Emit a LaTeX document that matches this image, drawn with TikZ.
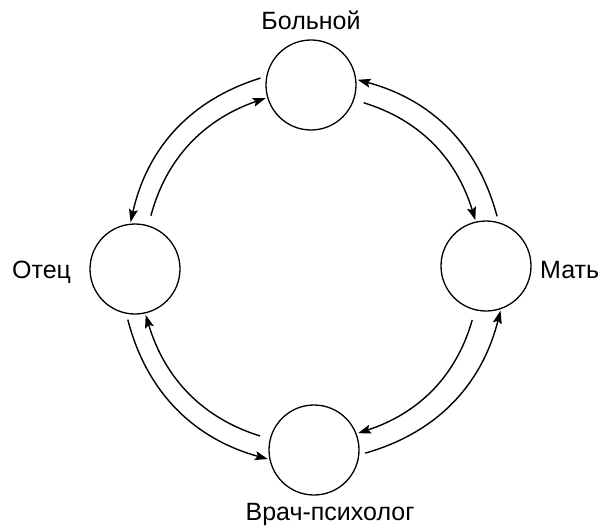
\documentclass[tikz,border=0pt]{standalone}
\usepackage{fontspec}
\setmainfont{Liberation Sans}
\usetikzlibrary{arrows.meta}
\begin{document}
\begin{tikzpicture}[x=1pt,y=1pt,
  person/.style={circle,draw,line width=1.3pt,minimum size=90pt,inner sep=0pt},
  lbl/.style={font=\fontsize{25}{30}\selectfont,inner sep=0pt},
  arr/.style={-{Stealth[length=13pt,width=9pt,inset=2.5pt]},line width=1.4pt,shorten >=1.5pt},
  outerarc/.style={arr,shorten <=6pt,bend right=30},
  innerarc/.style={arr,shorten <=10pt,bend left=28}]
\useasboundingbox (0,0) rectangle (601,528);
\node[person] (T) at (311,443) {};
\node[person] (L) at (135,259) {};
\node[person] (R) at (486,262) {};
\node[person] (B) at (314,78) {};
\node[lbl,anchor=base] (tl) at (311,498) {Больной};
\node[lbl,anchor=base west] (ll) at (12,250) {Отец};
\node[lbl,anchor=base west] (rl) at (540,250) {Мать};
\node[lbl,anchor=base] (bl) at (330,8) {Врач-психолог};
% outer arcs (counterclockwise)
\draw[outerarc] (T.169) to (L.96);
\draw[outerarc] (L.259) to (B.192);
\draw[outerarc] (B.-6) to (R.-71);
\draw[outerarc] (R.74) to (T.7);
% inner arcs (clockwise)
\draw[innerarc] (L.73) to (T.196);
\draw[innerarc] (T.-19) to (R.103);
\draw[innerarc] (R.256) to (B.21);
\draw[innerarc] (B.166) to (L.283);
\end{tikzpicture}
\end{document}
